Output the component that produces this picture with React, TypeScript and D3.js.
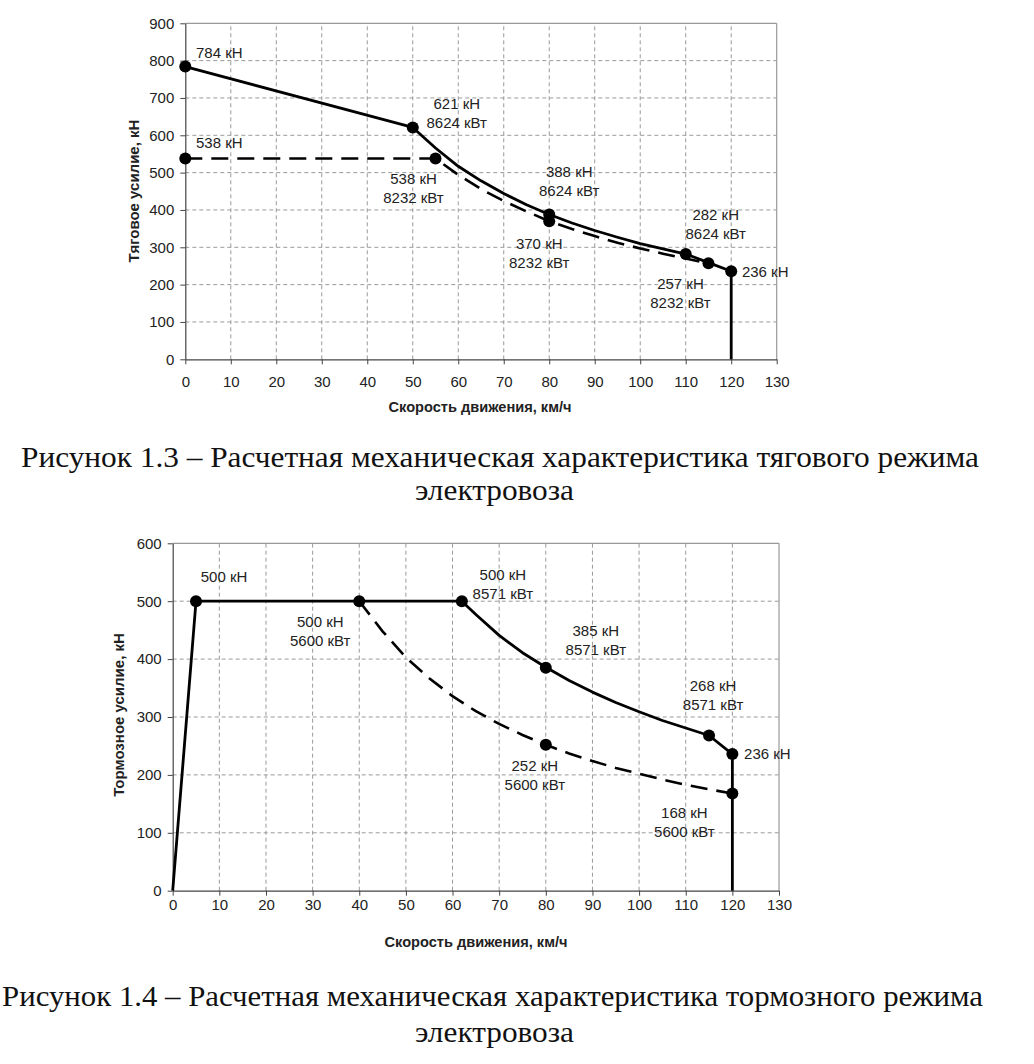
import React, { useEffect, useRef } from "react";
import * as d3 from "d3";

type Pt = [number, number];

// Рисунок 1.3 — тяговый режим (скорость, км/ч; усилие, кН)
const tractionFull: Pt[] = [
  [0, 784], [50, 621], [55, 566], [60, 517], [65, 478], [70, 444], [75, 414],
  [80, 388], [85, 365], [90, 345], [95, 327], [100, 310], [105, 296], [110, 282],
  [115, 259], [120, 236], [120, 0],
];
const tractionReduced: Pt[] = [
  [0, 538], [55, 538], [60, 494], [65, 456], [70, 424], [75, 396], [80, 370],
  [85, 349], [90, 330], [95, 312], [100, 297], [105, 283], [110, 270], [113, 262],
];
const tractionMarks: Pt[] = [
  [0, 784], [50, 621], [80, 388], [110, 282], [115, 257], [120, 236],
  [0, 538], [55, 538], [80, 370],
];
const tractionLabels: string[][] = [
  ["784 кН"], ["621 кН", "8624 кВт"], ["388 кН", "8624 кВт"], ["282 кН", "8624 кВт"],
  ["257 кН", "8232 кВт"], ["236 кН"], ["538 кН"], ["538 кН", "8232 кВт"], ["370 кН", "8232 кВт"],
];
const tractionLabelOffsets: Pt[] = [
  [34, -14], [44, -24], [20, -43], [30, -40], [-28, 20], [34, 0], [34, -16], [-22, 20], [-10, 22],
];

// Рисунок 1.4 — тормозной режим
const brakingFull: Pt[] = [
  [0, 0], [5, 500], [40, 500], [62, 500], [65, 477], [70, 441], [75, 411], [80, 386],
  [85, 363], [90, 343], [95, 325], [100, 309], [105, 294], [110, 281], [115, 268],
  [120, 236], [120, 0],
];
const brakingReduced: Pt[] = [
  [40, 500], [45, 448], [50, 403], [55, 367], [60, 336], [65, 310], [70, 288], [75, 269],
  [80, 252], [85, 237], [90, 224], [95, 212], [100, 202], [105, 192], [110, 183],
  [115, 175], [120, 168],
];
const brakingMarks: Pt[] = [
  [5, 500], [40, 500], [62, 500], [80, 385], [115, 268], [120, 236], [80, 252], [120, 168],
];
const brakingLabels: string[][] = [
  ["500 кН"], ["500 кН", "5600 кВт"], ["500 кН", "8571 кВт"], ["385 кН", "8571 кВт"],
  ["268 кН", "8571 кВт"], ["236 кН"], ["252 кН", "5600 кВт"], ["168 кН", "5600 кВт"],
];
const brakingLabelOffsets: Pt[] = [
  [28, -25], [-39, 20], [41, -27], [50, -37], [4, -50], [35, -1], [-11, 21], [-48, 19],
];

const xTicks = [0, 10, 20, 30, 40, 50, 60, 70, 80, 90, 100, 110, 120, 130];
const xTitle = "Скорость движения, км/ч";

const SANS = "'Liberation Sans', Arial, sans-serif";
const SERIF = "'Liberation Serif', 'Times New Roman', serif";

interface ChartProps {
  left: number; right: number; top: number; bottom: number;
  yMax: number; xPad: number;
  full: Pt[]; reduced: Pt[]; marks: Pt[];
  labels: string[][]; offsets: Pt[];
  yTitle: string; yTitlePos: Pt; xTitlePos: Pt;
}

function Chart(p: ChartProps) {
  const xRef = useRef<SVGGElement>(null);
  const yRef = useRef<SVGGElement>(null);
  const x = d3.scaleLinear().domain([0, 130]).range([p.left, p.right]);
  const y = d3.scaleLinear().domain([0, p.yMax]).range([p.bottom, p.top]);
  const yTicks = d3.range(0, p.yMax + 1, 100);

  useEffect(() => {
    const xa = d3.select(xRef.current!)
      .call(d3.axisBottom(x).tickValues(xTicks).tickSize(5).tickPadding(p.xPad).tickSizeOuter(0));
    const ya = d3.select(yRef.current!)
      .call(d3.axisLeft(y).tickValues(yTicks).tickSize(5).tickPadding(6).tickSizeOuter(0));
    [xa, ya].forEach((a) => {
      a.select(".domain").attr("stroke", "#444").attr("stroke-width", 1.2);
      a.selectAll(".tick line").attr("stroke", "#444");
      a.selectAll(".tick text").attr("font-size", 15).attr("fill", "#222").attr("font-family", SANS);
    });
  });

  const line = d3.line<Pt>().x((d) => x(d[0])).y((d) => y(d[1]));

  return (
    <g>
      {xTicks.slice(1, -1).map((t) => (
        <line key={"gx" + t} x1={x(t)} x2={x(t)} y1={y(0)} y2={y(p.yMax)}
          stroke="#9a9a9a" strokeWidth={1} strokeDasharray="4 3" />
      ))}
      {yTicks.slice(1, -1).map((t) => (
        <line key={"gy" + t} x1={x(0)} x2={x(130)} y1={y(t)} y2={y(t)}
          stroke="#9a9a9a" strokeWidth={1} strokeDasharray="4 3" />
      ))}
      <line x1={x(0)} x2={x(130)} y1={y(p.yMax)} y2={y(p.yMax)} stroke="#999" strokeWidth={1.2} />
      <line x1={x(130)} x2={x(130)} y1={y(0)} y2={y(p.yMax)} stroke="#999" strokeWidth={1.2} />
      <g ref={xRef} transform={`translate(0,${y(0)})`} />
      <g ref={yRef} transform={`translate(${x(0)},0)`} />
      <path d={line(p.reduced)!} fill="none" stroke="#000" strokeWidth={2.6} strokeDasharray="17 9" />
      <path d={line(p.full)!} fill="none" stroke="#000" strokeWidth={2.8} strokeLinejoin="round" />
      {p.marks.map((m, i) => (
        <circle key={"m" + i} cx={x(m[0])} cy={y(m[1])} r={6} fill="#000" />
      ))}
      {p.labels.map((lines, i) =>
        lines.map((s, j) => (
          <text key={`l${i}-${j}`} x={x(p.marks[i][0]) + p.offsets[i][0]}
            y={y(p.marks[i][1]) + p.offsets[i][1] + j * 19}
            textAnchor="middle" dominantBaseline="central" fontSize={15}
            fontFamily={SANS} fill="#222">{s}</text>
        ))
      )}
      <text x={p.xTitlePos[0]} y={p.xTitlePos[1]} textAnchor="middle" dominantBaseline="central"
        fontSize={14.6} fontWeight="bold" fontFamily={SANS} fill="#222">{xTitle}</text>
      <text transform={`translate(${p.yTitlePos[0]},${p.yTitlePos[1]}) rotate(-90)`}
        textAnchor="middle" dominantBaseline="central"
        fontSize={15} fontWeight="bold" fontFamily={SANS} fill="#222">{p.yTitle}</text>
    </g>
  );
}

function Caption({ text, x, y, width }: { text: string; x: number; y: number; width: number }) {
  return (
    <text x={x} y={y} fontSize={30} fontFamily={SERIF} fill="#111"
      textLength={width} lengthAdjust="spacingAndGlyphs">{text}</text>
  );
}

export default function App() {
  return (
    <svg width={1034} height={1064} style={{ position: "absolute", left: 0, top: 0, background: "#fff" }}>
      <rect width={1034} height={1064} fill="#fff" />
      <Chart left={185.3} right={776.7} top={23.3} bottom={359.3} yMax={900} xPad={12}
        full={tractionFull} reduced={tractionReduced} marks={tractionMarks}
        labels={tractionLabels} offsets={tractionLabelOffsets}
        yTitle="Тяговое усилие, кН" yTitlePos={[133, 191]} xTitlePos={[480, 407]} />
      <Caption text="Рисунок 1.3 – Расчетная механическая характеристика тягового режима" x={21} y={467} width={958} />
      <Caption text="электровоза" x={415} y={500} width={159} />
      <Chart left={172.7} right={779} top={543.3} bottom={890.7} yMax={600} xPad={4}
        full={brakingFull} reduced={brakingReduced} marks={brakingMarks}
        labels={brakingLabels} offsets={brakingLabelOffsets}
        yTitle="Тормозное усилие, кН" yTitlePos={[118, 715]} xTitlePos={[476, 942]} />
      <Caption text="Рисунок 1.4 – Расчетная механическая характеристика тормозного режима" x={2} y={1006} width={981} />
      <Caption text="электровоза" x={415} y={1042} width={159} />
    </svg>
  );
}
